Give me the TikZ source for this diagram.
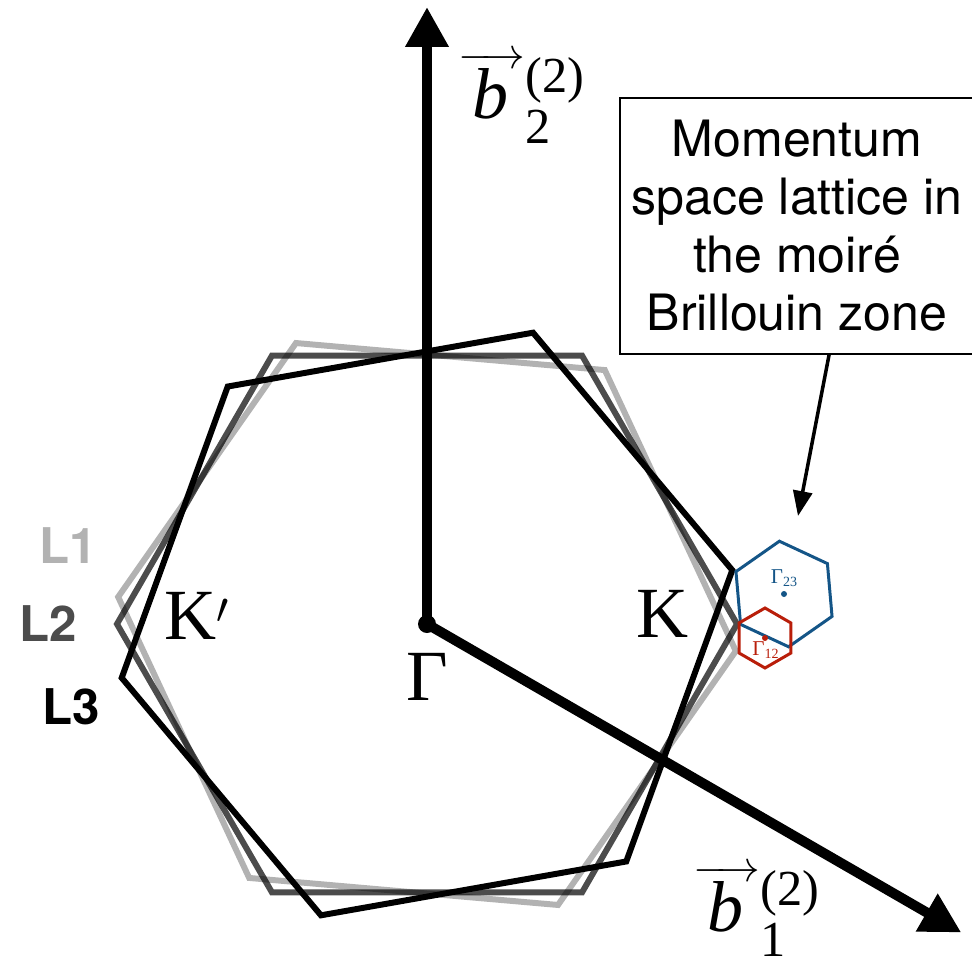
\documentclass[tikz,border=0pt]{standalone}
\usepackage{amsmath}
\usepackage{fontspec}
\setmainfont{Liberation Serif}
\setsansfont{TeX Gyre Heros}
\usetikzlibrary{arrows.meta}
\definecolor{bzblue}{RGB}{20,85,135}
\definecolor{bzred}{RGB}{185,30,10}
\newcommand{\bvec}{\overrightarrow{\kern0.19em\textit{b}\kern0.24em}}

\begin{document}
\begin{tikzpicture}[
  lattice/.style={line width=3.4pt},
  axis/.style={line width=5.7pt, -{Triangle[length=0.8cm,width=0.82cm]}},
  moire/.style={line width=1.7pt},
  big/.style={font=\fontsize{41}{48}\selectfont},
  layer/.style={font=\sffamily\bfseries\fontsize{28}{34}\selectfont},
  small/.style={font=\fontsize{12}{14}\selectfont}
]
  \useasboundingbox (-8.54,-6.74) rectangle (10.90,12.48);

  % L1 zone
  \draw[lattice, black, opacity=0.3] (-5:6.2) -- (55:6.2) -- (115:6.2) -- (175:6.2) -- (235:6.2) -- (295:6.2) -- cycle;
  % L2 zone
  \draw[lattice, black, opacity=0.7] (0:6.2) -- (60:6.2) -- (120:6.2) -- (180:6.2) -- (240:6.2) -- (300:6.2) -- cycle;
  % L3 zone
  \draw[lattice, black] (10:6.2) -- (70:6.2) -- (130:6.2) -- (190:6.2) -- (250:6.2) -- (310:6.2) -- cycle;

  \node[layer, text=black!30] (l1) at (-7.18,1.56) {L1};
  \node[layer, text=black!70] (l2) at (-7.58,0) {L2};
  \node[layer] (l3) at (-7.12,-1.66) {L3};

  % moire zones
  \coordinate (c23) at (7.14,0.60);
  \coordinate (c12) at (6.76,-0.28);
  \draw[moire, bzblue, shift={(c23)}] (35:1.06) -- (95:1.06) -- (155:1.06) -- (215:1.06) -- (275:1.06) -- (335:1.06) -- cycle;
  \draw[moire, bzred, shift={(c12)}] (30:0.6) -- (90:0.6) -- (150:0.6) -- (210:0.6) -- (270:0.6) -- (330:0.6) -- cycle;
  \fill[bzblue] (c23) circle (0.06);
  \fill[bzred] (c12) circle (0.06);
  \node[small, text=bzblue] (g23) at (7.15,0.92) {Γ\textsubscript{23}};
  \node[small, text=bzred] (g12) at (6.78,-0.52) {Γ\textsubscript{12}};

  % reciprocal vectors
  \node[circle, fill, inner sep=0pt, minimum size=0.36cm] (G) at (0,0) {};
  \coordinate (b2tip) at (0,12.34);
  \coordinate (b1tip) at (-30:12.34);
  \draw[axis] (G.center) -- (b2tip);
  \draw[axis] (G.center) -- (b1tip);
  \node[big] (b2) at (1.9,10.52) {$\bvec^{\textrm{(2)}}_{\textrm{2}}$};
  \node[big] (b1) at (6.6,-5.74) {$\bvec^{\textrm{(2)}}_{\textrm{1}}$};

  % points
  \node[big] (gam) at (0,-1.06) {Γ};
  \node[big] (kp) at (-4.6,0.16) {K$'$};
  \node[big] (k) at (4.72,0.2) {K};

  % callout
  \node[draw, line width=0.8pt, minimum width=7.08cm, minimum height=5.12cm, align=center,
    font=\sffamily\fontsize{28.5}{33}\selectfont] (note) at (7.40,7.96)
    {Momentum\\space lattice in\\the moiré\\Brillouin zone};
  \coordinate (tip) at (7.42,2.16);
  \draw[line width=2pt, -{Triangle[length=0.5cm,width=0.38cm]}] (note.-76) -- (tip);
\end{tikzpicture}
\end{document}
